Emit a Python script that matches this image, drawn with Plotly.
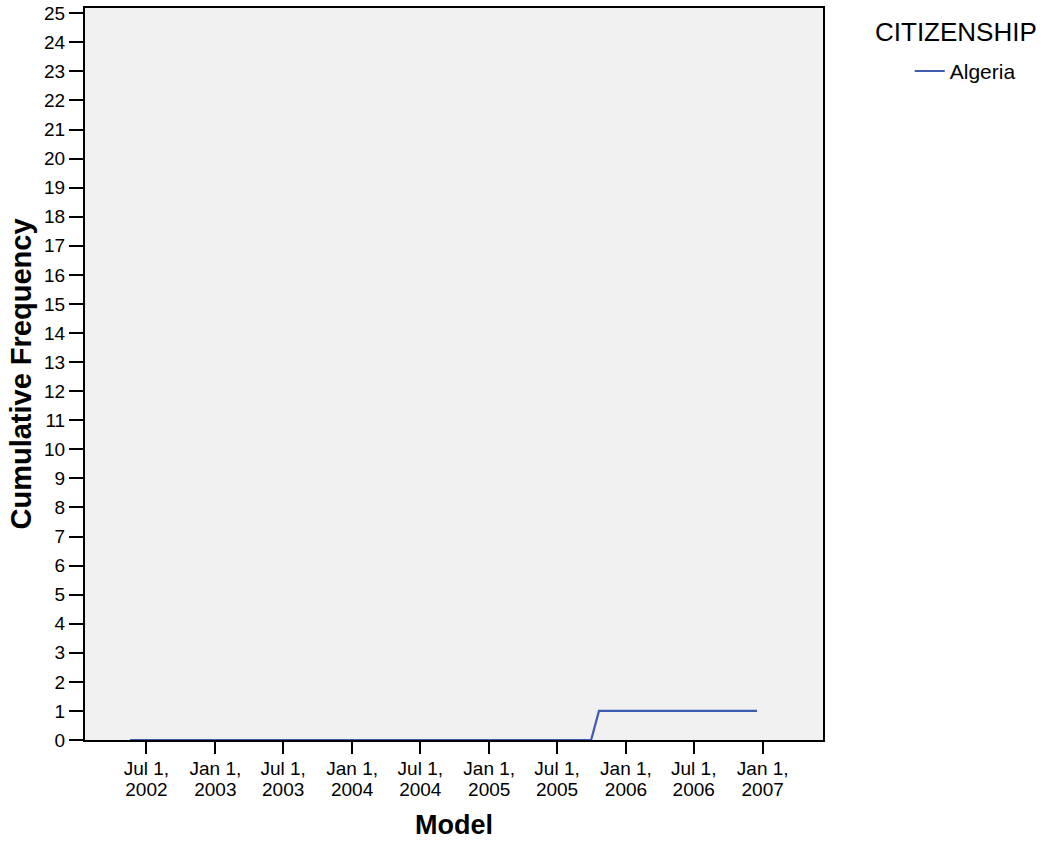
import plotly.graph_objects as go

# Data
dates = ["2002-05-18", "2005-09-30", "2005-10-21", "2006-12-17"]
cum_freq = [0, 0, 1, 1]
series_name = "Algeria"
legend_title = "CITIZENSHIP"

tick_dates = ["2002-07-01", "2003-01-01", "2003-07-01", "2004-01-01", "2004-07-01",
              "2005-01-01", "2005-07-01", "2006-01-01", "2006-07-01", "2007-01-01"]
tick_month_labels = ["Jul 1,", "Jan 1,", "Jul 1,", "Jan 1,", "Jul 1,",
                     "Jan 1,", "Jul 1,", "Jan 1,", "Jul 1,", "Jan 1,"]
tick_year_labels = ["2002", "2003", "2003", "2004", "2004",
                    "2005", "2005", "2006", "2006", "2007"]
y_ticks = list(range(0, 26))

font = "Liberation Sans, Arial, sans-serif"
x_range = ["2002-01-18", "2007-06-11"]

fig = go.Figure()
fig.add_trace(go.Scatter(x=dates, y=cum_freq, mode="lines", name=series_name,
                         line=dict(color="#3e5cb0", width=2.2)))
# invisible companion trace so the second (year-label) axis is drawn
fig.add_trace(go.Scatter(x=dates, y=cum_freq, mode="lines", xaxis="x2",
                         showlegend=False, hoverinfo="skip", opacity=0,
                         line=dict(color="rgba(0,0,0,0)", width=0)))

fig.update_layout(
    width=1044, height=846,
    margin=dict(l=85, r=221, t=8, b=106, autoexpand=False),
    paper_bgcolor="white", plot_bgcolor="#f0f0f0",
    font=dict(family=font, size=19, color="black"),
    showlegend=True,
    legend=dict(xref="container", yref="container",
                x=0.8714, y=0.9399, xanchor="left", yanchor="top",
                font=dict(size=21), bgcolor="rgba(0,0,0,0)"),
    annotations=[dict(text=legend_title, xref="paper", yref="paper",
                      x=1.0677, y=0.9672, xanchor="left", yanchor="middle",
                      showarrow=False, font=dict(size=26))],
    xaxis=dict(type="date", range=x_range, automargin=False,
               tickvals=tick_dates, ticktext=tick_month_labels,
               ticks="outside", ticklen=12, tickwidth=2, tickcolor="black",
               ticklabelstandoff=-2,
               showgrid=False, zeroline=False,
               showline=True, linecolor="black", linewidth=2, mirror=True,
               tickfont=dict(size=19)),
    xaxis2=dict(type="date", range=x_range, overlaying="x", anchor="y", side="bottom",
                automargin=False,
                tickvals=tick_dates, ticktext=tick_year_labels,
                ticks="outside", ticklen=12, tickwidth=2, tickcolor="rgba(0,0,0,0)",
                ticklabelstandoff=20,
                showgrid=False, zeroline=False, showline=False,
                title=dict(text="<b>Model</b>", font=dict(size=27), standoff=16),
                tickfont=dict(size=19)),
    yaxis=dict(range=[0, 25.18], tickvals=y_ticks, automargin=False,
               ticks="outside", ticklen=14, tickwidth=2, tickcolor="black",
               showgrid=False, zeroline=False,
               showline=True, linecolor="black", linewidth=2, mirror=True,
               title=dict(text="<b>Cumulative Frequency</b>", font=dict(size=29), standoff=4),
               tickfont=dict(size=19)),
)

fig.write_html("out.html", config={"displayModeBar": False},
               post_script="document.body.style.margin='0';")
